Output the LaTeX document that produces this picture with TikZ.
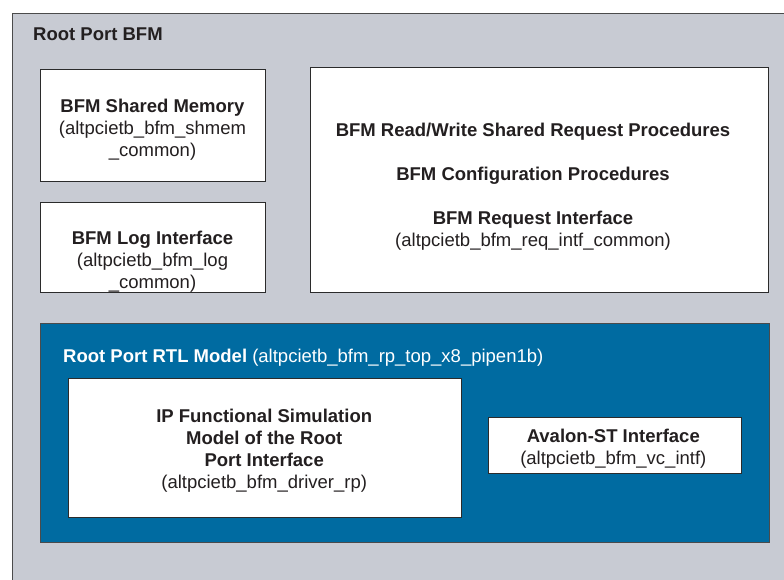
\documentclass[tikz,border=0pt]{standalone}
\usepackage{fontspec}
\setmainfont{Liberation Sans}
\usetikzlibrary{positioning}
\definecolor{bfmgray}{HTML}{C8CBD3}
\definecolor{rtlblue}{HTML}{006BA1}
\definecolor{edge}{HTML}{2B2B2B}
\definecolor{ink}{HTML}{231F20}

\begin{document}
\begin{tikzpicture}[
  x=1pt, y=-1pt,
  frame/.style={draw=edge!85, line width=1pt, fill=bfmgray, inner sep=0pt},
  box/.style={draw=edge, line width=1.2pt, fill=white, inner sep=0pt},
  txt/.style={inner sep=0pt, align=center, text=ink, font=\fontsize{18.5}{22}\selectfont}
]
  \useasboundingbox (0,0) rectangle (784,580);
  \fill[white] (0,0) rectangle (784,580);
  \clip (0,0) rectangle (784,580);

  % outer frame
  \node[frame, anchor=north west, minimum width=800pt, minimum height=600pt] (rpbfm) at (12,13) {};
  \node[txt, anchor=base west] (rpbfmtitle) at (33,40.7) {\textbf{Root Port BFM}};

  % upper boxes
  \node[box, anchor=north west, minimum width=225pt, minimum height=112pt] (shmem) at (40,69) {};
  \node[box, anchor=north west, minimum width=225pt, minimum height=90pt] (logif) at (40,202) {};
  \node[box, anchor=north west, minimum width=458pt, minimum height=225pt] (reqproc) at (310,67) {};

  \node[txt, anchor=north] (shmemtxt) at (152.5,99) {\textbf{BFM Shared Memory}\\(altpcietb\_bfm\_shmem\\\_common)};
  \node[txt, anchor=north] (logtxt) at (152.5,230.7) {\textbf{BFM Log Interface}\\(altpcietb\_bfm\_log\\\_common)};
  \node[txt, anchor=north] (reqtxt) at (533,122.7) {\textbf{BFM Read/Write Shared Request Procedures}\\[22pt]
    \textbf{BFM Configuration Procedures}\\[22pt]
    \textbf{BFM Request Interface}\\(altpcietb\_bfm\_req\_intf\_common)};

  % RTL model
  \node[frame, fill=rtlblue, anchor=north west, minimum width=729pt, minimum height=219pt] (rtl) at (40,323) {};
  \node[txt, anchor=base west, text=white] (rtltitle) at (63,362.3) {\textbf{Root Port RTL Model} (altpcietb\_bfm\_rp\_top\_x8\_pipen1b)};
  \node[box, anchor=north west, minimum width=393pt, minimum height=139pt] (ipsim) at (68,378) {};
  \node[box, anchor=north west, minimum width=253pt, minimum height=56pt] (avalon) at (488,417) {};

  \node[txt, anchor=north] (iptxt) at (264.2,409.3) {\textbf{IP Functional Simulation}\\\textbf{Model of the Root}\\\textbf{Port Interface}\\(altpcietb\_bfm\_driver\_rp)};
  \node[txt, anchor=north] (avtxt) at (613.3,429.3) {\textbf{Avalon-ST Interface}\\(altpcietb\_bfm\_vc\_intf)};
\end{tikzpicture}
\end{document}
